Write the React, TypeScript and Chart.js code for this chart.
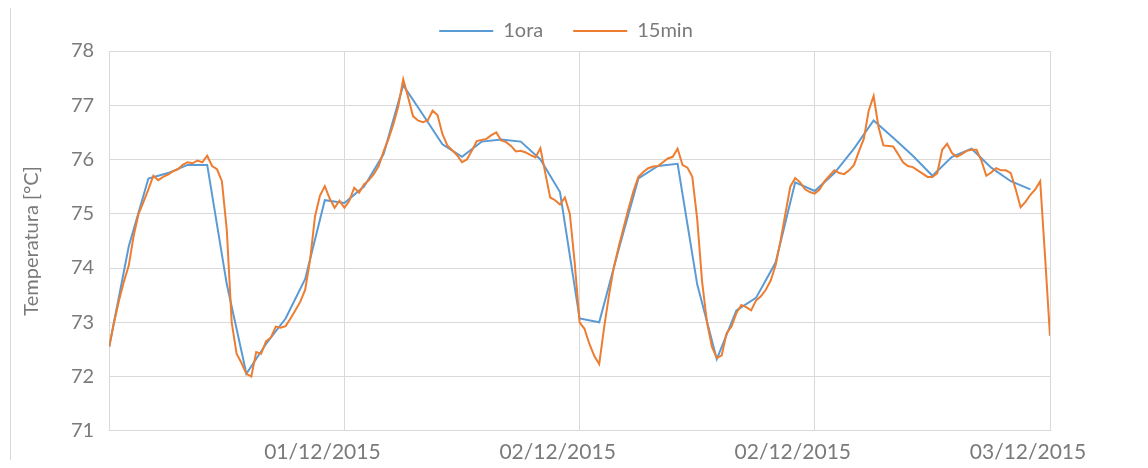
import React, { useEffect, useRef } from "react";
import { Chart, registerables } from "chart.js";

Chart.register(...registerables);

// Hourly series ("1ora"), one value per hour starting at hour 0
const hourlyTemps: number[] = [
  72.55, 74.4, 75.65, 75.75, 75.9, 75.9, 73.7, 72.05, 72.6, 73.07,
  73.8, 75.25, 75.2, 75.5, 76.1, 77.37, 76.83, 76.28, 76.05, 76.33,
  76.37, 76.33, 76.0, 75.4, 73.07, 73.0, 74.35, 75.65, 75.88, 75.92,
  73.7, 72.32, 73.22, 73.45, 74.1, 75.58, 75.42, 75.75, 76.2, 76.72,
  76.4, 76.07, 75.7, 76.05, 76.2, 75.85, 75.6, 75.45,
];

// 15-minute series ("15min"), one value every quarter hour starting at hour 0
const quarterTemps: number[] = [
  72.55, 73.0, 73.4, 73.75, 74.05, 74.6, 75.0, 75.22, 75.45, 75.7,
  75.62, 75.68, 75.72, 75.78, 75.82, 75.9, 75.95, 75.93, 75.98, 75.95,
  76.07, 75.88, 75.82, 75.6, 74.7, 73.0, 72.42, 72.25, 72.05, 72.0,
  72.45, 72.42, 72.65, 72.72, 72.92, 72.9, 72.93, 73.07, 73.22, 73.38,
  73.6, 74.15, 74.95, 75.33, 75.51, 75.28, 75.11, 75.24, 75.11, 75.24,
  75.48, 75.39, 75.54, 75.62, 75.73, 75.88, 76.15, 76.38, 76.65, 76.98,
  77.48, 77.15, 76.8, 76.72, 76.69, 76.72, 76.9, 76.82, 76.47, 76.26,
  76.17, 76.08, 75.95, 76.0, 76.16, 76.34, 76.36, 76.38, 76.45, 76.5,
  76.35, 76.32, 76.25, 76.15, 76.16, 76.13, 76.08, 76.04, 76.21, 75.75,
  75.3, 75.25, 75.17, 75.3, 75.0, 74.1, 73.0, 72.88, 72.6, 72.38,
  72.23, 72.9, 73.5, 74.02, 74.4, 74.75, 75.1, 75.42, 75.68, 75.77,
  75.84, 75.87, 75.88, 75.95, 76.02, 76.05, 76.2, 75.9, 75.85, 75.68,
  74.9, 73.75, 73.0, 72.55, 72.34, 72.39, 72.8, 72.92, 73.17, 73.32,
  73.28, 73.22, 73.4, 73.48, 73.6, 73.77, 74.05, 74.5, 75.0, 75.5,
  75.66, 75.58, 75.45, 75.4, 75.37, 75.45, 75.6, 75.7, 75.8, 75.75,
  75.73, 75.8, 75.9, 76.15, 76.38, 76.9, 77.17, 76.6, 76.26, 76.25,
  76.24, 76.1, 75.95, 75.88, 75.86, 75.8, 75.74, 75.68, 75.68, 75.75,
  76.18, 76.29, 76.12, 76.05, 76.1, 76.16, 76.18, 76.18, 75.98, 75.7,
  75.76, 75.84, 75.8, 75.8, 75.75, 75.45, 75.12, 75.22, 75.35, 75.45,
  75.6, 74.2, 72.75,
];

const HOURLY_STEP = 1; // hours
const QUARTER_STEP = 0.25; // hours

// x-axis tick labels, one per 12-hour gridline (hour 0 unlabeled)
const xTickLabels: string[] = ["", "01/12/2015", "02/12/2015", "02/12/2015", "03/12/2015"];
const X_TICK_STEP = 12;
const X_MAX = 48;

const seriesNames: string[] = ["1ora", "15min"];
const Y_MIN = 71;
const Y_MAX = 78;
const yTitle = "Temperatura [°C]";

const FONT = "Lato, 'Open Sans', sans-serif";
const TEXT = "#7a7a7a";
const GRID = "#d9d9d9";

export default function App() {
  const ref = useRef<HTMLCanvasElement | null>(null);

  useEffect(() => {
    if (!ref.current) return;
    const chart = new Chart(ref.current, {
      type: "line",
      data: {
        datasets: [
          {
            label: seriesNames[0],
            data: hourlyTemps.map((y, i) => ({ x: i * HOURLY_STEP, y })),
            borderColor: "#5B9BD5",
            backgroundColor: "#5B9BD5",
            borderWidth: 2,
            pointRadius: 0,
            tension: 0,
            order: 2,
          },
          {
            label: seriesNames[1],
            data: quarterTemps.map((y, i) => ({ x: i * QUARTER_STEP, y })),
            borderColor: "#ED7D31",
            backgroundColor: "#ED7D31",
            borderWidth: 2,
            pointRadius: 0,
            tension: 0,
            order: 1,
          },
        ],
      },
      options: {
        animation: false,
        responsive: true,
        maintainAspectRatio: false,
        layout: { padding: { left: 4, right: 20, top: -17, bottom: -14 } },
        plugins: {
          tooltip: { enabled: false },
          legend: {
            position: "top",
            labels: {
              usePointStyle: true,
              pointStyle: "line",
              pointStyleWidth: 54,
              color: TEXT,
              font: { family: FONT, size: 20 },
              padding: 30,
              sort: (a: any, b: any) => a.datasetIndex - b.datasetIndex,
            },
          },
        },
        scales: {
          x: {
            type: "linear",
            min: 0,
            max: X_MAX,
            grid: { color: GRID, drawTicks: false },
            border: { color: GRID },
            afterFit: (scale: any) => {
              scale.paddingRight = 90;
            },
            ticks: {
              stepSize: X_TICK_STEP,
              autoSkip: false,
              maxRotation: 0,
              padding: 9,
              labelOffset: -22,
              color: TEXT,
              font: { family: FONT, size: 21 },
              callback: (v: any) => xTickLabels[Math.round(Number(v) / X_TICK_STEP)] ?? "",
            },
          },
          y: {
            min: Y_MIN,
            max: Y_MAX,
            grid: { color: GRID, drawTicks: false },
            border: { color: GRID },
            ticks: {
              stepSize: 1,
              padding: 15,
              color: TEXT,
              font: { family: FONT, size: 20 },
            },
            title: {
              display: true,
              text: yTitle,
              color: TEXT,
              font: { family: FONT, size: 20 },
              padding: { top: 8, bottom: 12 },
            },
          },
        },
      },
    });
    return () => chart.destroy();
  }, []);

  return (
    <div style={{ position: "relative", width: 1132, height: 452 }}>
      <div
        style={{
          position: "absolute",
          left: 2,
          top: 0,
          bottom: 0,
          width: 1,
          background: GRID,
        }}
      />
      <canvas ref={ref} />
    </div>
  );
}
